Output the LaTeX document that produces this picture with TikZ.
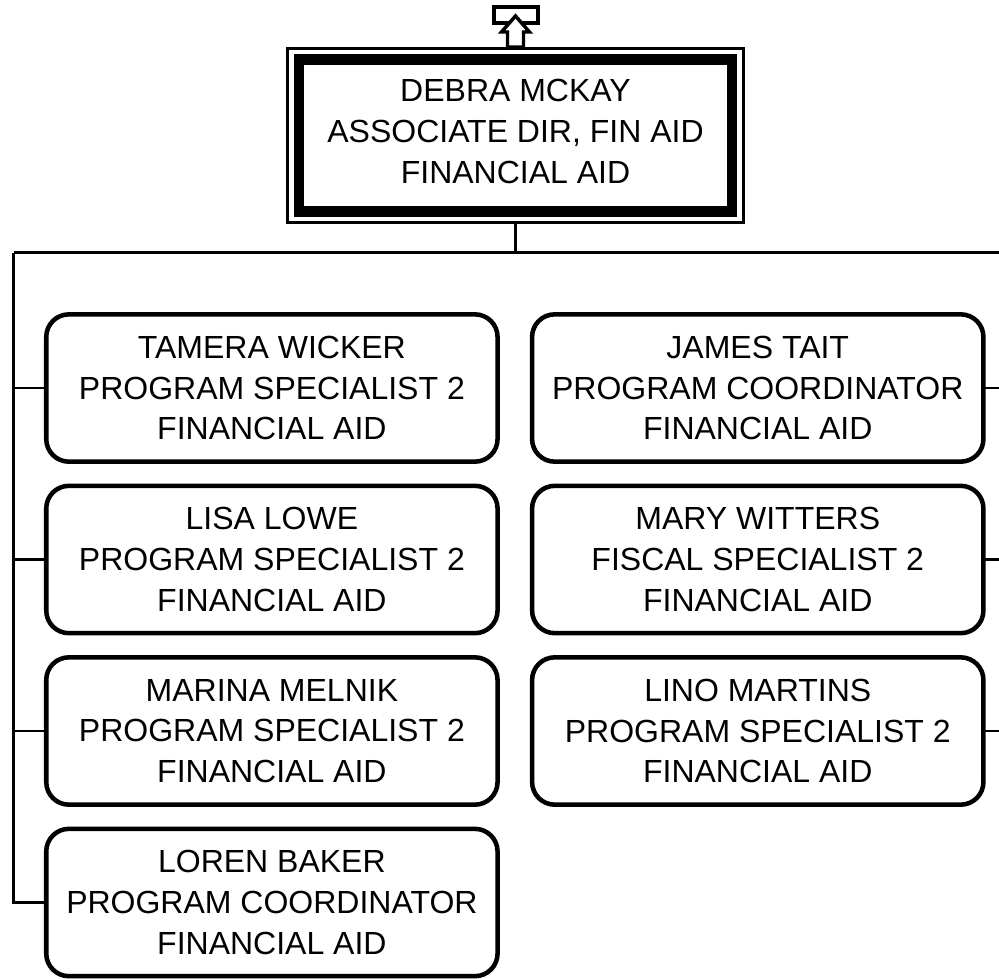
\documentclass[tikz,border=0pt]{standalone}
\usepackage{fontspec}
\setmainfont{Liberation Sans}
\usetikzlibrary{calc}
\begin{document}
\begin{tikzpicture}[x=0.75pt,y=-0.75pt,
  every node/.style={font=\fontsize{24}{30.6}\selectfont, align=center, inner sep=0pt, outer sep=0pt},
  person/.style={draw, line width=3.4pt, rounded corners=17pt, minimum width=338.5pt, minimum height=110.5pt},
  headbox/.style={draw, line width=8pt, minimum width=324.75pt, minimum height=113.6pt},
  headouter/.style={draw, line width=2.5pt, minimum width=341.7pt, minimum height=130.8pt},
  conn/.style={line width=1.7pt},
  uparrow/.style={draw, fill=white, line width=2.6pt, line join=miter}
]
\useasboundingbox (0,0) rectangle (999,978);
\clip (0,0) rectangle (999,978);

% top position
\node[headouter] (outer) at (515.5,135.5) {};
\node[headbox] (top) at (515.5,135.5) {};
\node (toptext) at (515.5,131.5) {DEBRA MCKAY\\ASSOCIATE DIR, FIN AID\\FINANCIAL AID};

% up arrow marker
\draw[line width=3pt] (493.5,7) rectangle (537.5,23);
\draw[uparrow] (515.5,16) -- (529.5,32) -- (523.5,32) -- (523.5,47) -- (507.5,47) -- (507.5,32) -- (501.5,32) -- cycle;

% left column
\node[person] (l1) at (271.9,388)   {TAMERA WICKER\\PROGRAM SPECIALIST 2\\FINANCIAL AID};
\node[person] (l2) at (271.9,559.5) {LISA LOWE\\PROGRAM SPECIALIST 2\\FINANCIAL AID};
\node[person] (l3) at (271.9,731)   {MARINA MELNIK\\PROGRAM SPECIALIST 2\\FINANCIAL AID};
\node[person] (l4) at (271.9,902.5) {LOREN BAKER\\PROGRAM COORDINATOR\\FINANCIAL AID};

% right column
\node[person] (r1) at (757.75,388)   {JAMES TAIT\\PROGRAM COORDINATOR\\FINANCIAL AID};
\node[person] (r2) at (757.75,559.5) {MARY WITTERS\\FISCAL SPECIALIST 2\\FINANCIAL AID};
\node[person] (r3) at (757.75,731)   {LINO MARTINS\\PROGRAM SPECIALIST 2\\FINANCIAL AID};

% connectors
\coordinate (busM) at (515.5,252.5);
\coordinate (busL) at (13.5,252.5);
\coordinate (busR) at (1017.5,252.5);
\draw[conn] (outer.south) -- (busM);
\draw[conn] (busL) -- (busR);
\draw[conn] (busL) |- (l1.west);
\draw[conn] (busL) |- (l2.west);
\draw[conn] (busL) |- (l3.west);
\draw[conn] (busL) |- (l4.west);
\draw[conn] (busR) |- (r1.east);
\draw[conn] (busR) |- (r2.east);
\draw[conn] (busR) |- (r3.east);
\end{tikzpicture}
\end{document}
